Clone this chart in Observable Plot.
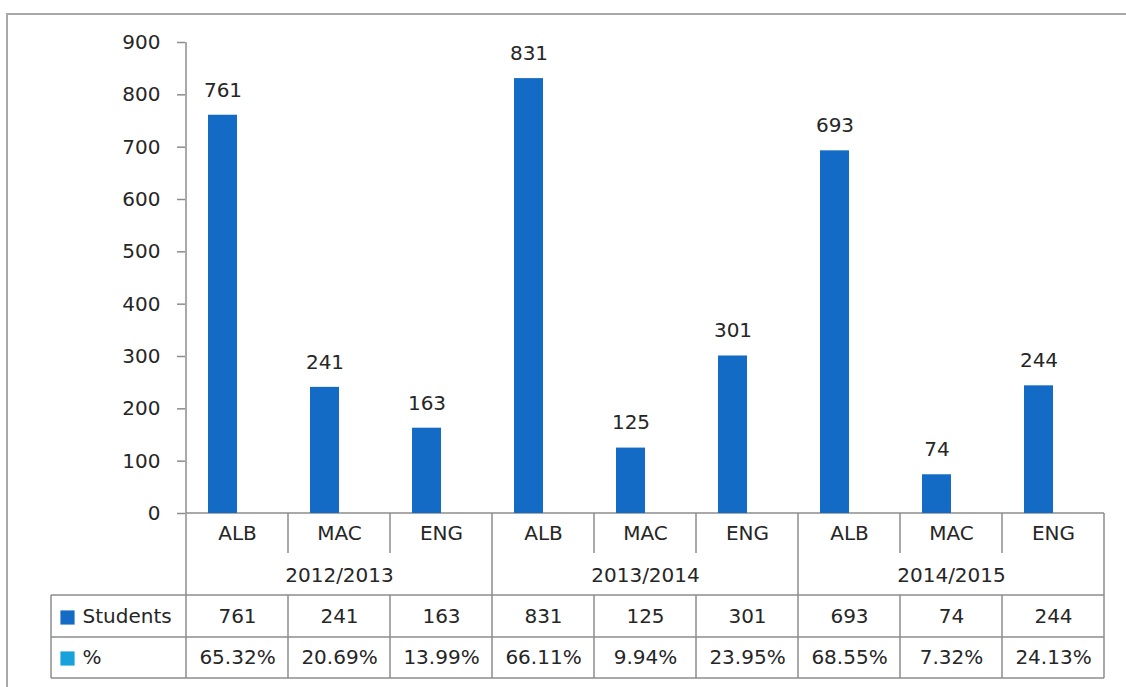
<!DOCTYPE html>
<html>
<head>
<meta charset="utf-8">
<script src="https://cdn.jsdelivr.net/npm/d3@7"></script>
<script src="https://cdn.jsdelivr.net/npm/@observablehq/plot@0.6"></script>
<style>
  html, body { margin: 0; padding: 0; background: #fff; }
  #chart { width: 1126px; height: 687px; overflow: hidden; }
</style>
</head>
<body>
<div id="chart"></div>
<script>
// ---- data ----
const years = ["2012/2013", "2013/2014", "2014/2015"];
const languages = ["ALB", "MAC", "ENG"];
const students = [761, 241, 163, 831, 125, 301, 693, 74, 244];
const percents = ["65.32%", "20.69%", "13.99%", "66.11%", "9.94%", "23.95%", "68.55%", "7.32%", "24.13%"];
const seriesNames = ["Students", "%"];
const seriesColors = ["#136bc6", "#17a2dc"];
const yTicks = [0, 100, 200, 300, 400, 500, 600, 700, 800, 900];

const rows = years.flatMap((yr, i) => languages.map((lang, j) => ({
  key: yr + " " + lang, year: yr, lang, students: students[i * 3 + j], pct: percents[i * 3 + j]
})));
const yearRows = years.map((yr, i) => ({year: yr, key: rows[i * 3 + 1].key}));
const legendRows = seriesNames.map((name, i) => ({name, color: seriesColors[i], dy: i === 0 ? 104 : 145}));

const lineColor = "#8c8c8c";
const textColor = "#262626";
const font = "DejaVu Sans, sans-serif";
const textShift = 5.5;

function gridLines(index, scales, values, dim) {
  const x = scales.x;
  const keys = rows.map(d => d.key);
  const bw = x(keys[1]) - x(keys[0]);
  const left = x(keys[0]);
  const right = x(keys[keys.length - 1]) + bw;
  const top = dim.marginTop;
  const base = dim.height - dim.marginBottom;
  const yCatEnd = base + 40, yTable = base + 82, yMid = base + 124, yBottom = base + 165;
  const tableLeft = left - 135;
  const g = d3.create("svg:g").attr("stroke", lineColor).attr("stroke-width", 1.5).attr("fill", "none");
  // outer chart border
  g.append("rect").attr("x", 7).attr("y", 14).attr("width", 1300).attr("height", 900)
    .attr("stroke", "#a9a9a9").attr("stroke-width", 2);
  // y axis line + left border of the table area
  g.append("line").attr("x1", left).attr("x2", left).attr("y1", top).attr("y2", yBottom);
  // baseline
  g.append("line").attr("x1", left).attr("x2", right).attr("y1", base).attr("y2", base);
  // horizontal table lines
  for (const yy of [yTable, yMid, yBottom])
    g.append("line").attr("x1", tableLeft).attr("x2", right).attr("y1", yy).attr("y2", yy);
  // table left edge
  g.append("line").attr("x1", tableLeft).attr("x2", tableLeft).attr("y1", yTable).attr("y2", yBottom);
  // vertical separators
  keys.forEach((k, i) => {
    const xx = x(k) + bw;
    if ((i + 1) % 3 === 0) {
      g.append("line").attr("x1", xx).attr("x2", xx).attr("y1", base).attr("y2", yBottom);
    } else {
      g.append("line").attr("x1", xx).attr("x2", xx).attr("y1", base).attr("y2", yCatEnd);
      g.append("line").attr("x1", xx).attr("x2", xx).attr("y1", yTable).attr("y2", yBottom);
    }
  });
  return g.node();
}

const marks = [
  gridLines,
  Plot.axisY({ticks: yTicks, tickSize: 8, tickPadding: 17, stroke: lineColor, strokeWidth: 1.5, fill: textColor, fontSize: 20, label: null, tickFormat: d => String(d)}),
  Plot.barY(rows, {x: "key", y: "students", fill: seriesColors[0], insetLeft: 22, insetRight: 51}),
  Plot.text(rows, {x: "key", y: "students", text: d => String(d.students), dx: -14.5, dy: -25, fill: textColor, fontSize: 20}),
  // table: category labels
  Plot.text(rows, {x: "key", frameAnchor: "bottom", text: "lang", dy: 21 + textShift, fill: textColor, fontSize: 20}),
  // year labels
  Plot.text(yearRows, {x: "key", frameAnchor: "bottom", text: "year", dy: 63 + textShift, fill: textColor, fontSize: 20}),
  // students row
  Plot.text(rows, {x: "key", frameAnchor: "bottom", text: d => String(d.students), dy: 104 + textShift, fill: textColor, fontSize: 20}),
  // percent row
  Plot.text(rows, {x: "key", frameAnchor: "bottom", text: "pct", dy: 145 + textShift, fill: textColor, fontSize: 20}),
  // row headers with legend keys
  ...legendRows.flatMap(d => [
    Plot.dot([d], {frameAnchor: "bottom-left", dx: -118, dy: d.dy, symbol: "square", r: 8, fill: d.color}),
    Plot.text([d], {frameAnchor: "bottom-left", dx: -103, dy: d.dy + textShift, text: "name", textAnchor: "start", fill: textColor, fontSize: 20})
  ])
];

const plot = Plot.plot({
  width: 1126,
  height: 687,
  marginLeft: 185,
  marginRight: 21,
  marginTop: 42,
  marginBottom: 174,
  style: {fontFamily: font, fontSize: "20px", color: textColor, background: "white"},
  x: {type: "band", domain: rows.map(d => d.key), padding: 0, axis: null},
  y: {domain: [0, 900], axis: null},
  marks
});

document.getElementById("chart").append(plot);
</script>
</body>
</html>
